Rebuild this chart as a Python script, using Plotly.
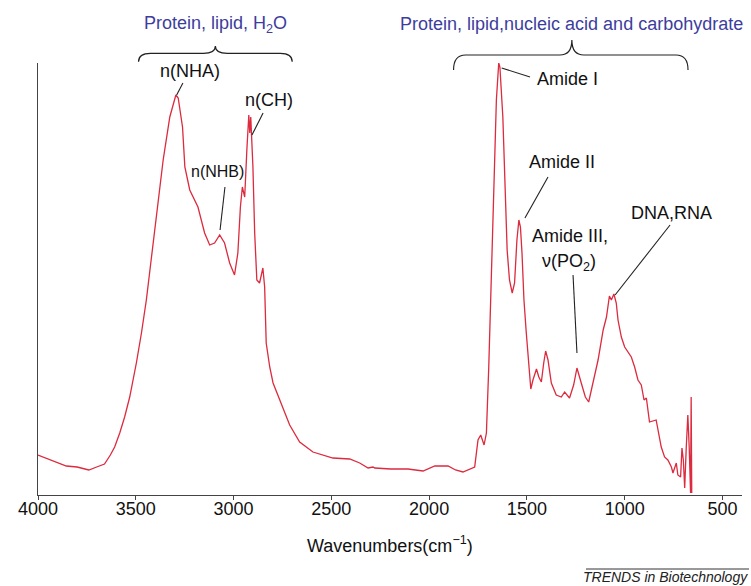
import plotly.graph_objects as go

# ---------------- data ----------------
wavenumber = [4000, 3930, 3855, 3800, 3740, 3700, 3660, 3630, 3608, 3582, 3557, 3531, 3497, 3471,
              3446, 3419, 3395, 3360, 3326, 3301, 3295, 3283, 3261, 3249, 3224, 3182, 3148, 3122,
              3097, 3071, 3046, 3020, 2995, 2978, 2965, 2955, 2943, 2932, 2922, 2917, 2912, 2901,
              2892, 2881, 2867, 2850, 2841, 2833, 2815, 2798, 2764, 2713, 2662, 2594, 2492, 2406,
              2355, 2312, 2287, 2278, 2196, 2108, 2031, 1971, 1903, 1865, 1827, 1767, 1750, 1736,
              1719, 1707, 1695, 1685, 1668, 1656, 1644, 1638, 1623, 1611, 1601, 1589, 1575, 1563,
              1551, 1541, 1533, 1525, 1515, 1503, 1491, 1480, 1469, 1451, 1439, 1426, 1414, 1404,
              1392, 1375, 1350, 1324, 1307, 1282, 1261, 1244, 1222, 1201, 1184, 1161, 1136, 1110,
              1093, 1078, 1068, 1055, 1043, 1034, 1017, 1000, 983, 966, 949, 932, 915, 901, 889,
              873, 839, 830, 813, 796, 779, 761, 753, 736, 728, 714, 707, 700, 693, 685, 677, 670,
              663, 660, 657]
absorbance = [40, 35, 29, 28, 25, 28, 31, 40, 48, 62, 78, 98, 132, 162,
              195, 239, 278, 335, 378, 398, 400, 397, 368, 328, 305, 288, 262, 250,
              252, 260, 252, 232, 220, 242, 288, 308, 298, 345, 380, 362, 378, 328,
              262, 215, 212, 227, 208, 152, 128, 112, 95, 70, 53, 43, 37, 36,
              32, 27, 28, 27, 26, 26, 24, 29, 29, 25, 23, 28, 55, 60,
              50, 62, 128, 195, 328, 395, 432, 428, 378, 312, 245, 215, 202, 212,
              255, 275, 268, 242, 195, 162, 128, 106, 115, 126, 118, 113, 132, 144,
              135, 112, 100, 98, 103, 97, 110, 127, 112, 98, 93, 112, 135, 165,
              178, 199, 195, 201, 192, 175, 158, 148, 143, 138, 128, 115, 110, 95, 97,
              73, 75, 65, 48, 38, 35, 28, 22, 32, 20, 18, 47, 35, 7, 48, 80, 48,
              2, 98, 2]

tick_values = [4000, 3500, 3000, 2500, 2000, 1500, 1000, 500]
tick_labels = ["4000", "3500", "3000", "2500", "2000", "1500", "1000", "500"]

# peak labels (text and where it sits, in wavenumber / absorbance units)
peak_labels = ["n(NHA)", "n(CH)", "n(NHB)", "Amide I", "Amide II", "Amide III,", "ν(PO<sub>2</sub>)", "DNA,RNA"]
peak_font = [18, 18, 16, 18, 18, 18, 18, 18]
label_x = [3224, 2819, 3080, 1290, 1320, 1282, 1285, 760]
label_y = [424, 395, 324, 416, 333, 259, 233, 282]

# leader lines from peak to label
leader_x0 = [3291, 2906, 3069, 1629, 1510, 1244, 1049]
leader_y0 = [400, 360, 265, 427, 277, 142, 200]
leader_x1 = [3259, 2849, 3044, 1484, 1392, 1264, 768]
leader_y1 = [412, 382, 308, 418, 318, 220, 270]

group_labels = ["Protein, lipid, H<sub>2</sub>O", "Protein, lipid,nucleic acid and carbohydrate"]
group_from = [3486, 1875]
group_to = [2700, 676]
group_tip = [3093, 1270]

FONT = "Liberation Sans, Arial, sans-serif"
W, H = 751, 586
ML, MR, MT, MB = 38, 9, 63, 91
PW, PH = W - ML - MR, H - MT - MB
XMAX, XMIN = 4000, 400
YMAX = 432


def xp(wn):
    return (XMAX - wn) / (XMAX - XMIN)


def yp(py):
    return (H - MB - py) / PH


fig = go.Figure()
fig.add_trace(go.Scatter(x=wavenumber, y=absorbance, mode="lines",
                         line=dict(color="#dc2a3e", width=1.3), hoverinfo="skip"))

shapes = []
annotations = []

for i in range(len(leader_x0)):
    shapes.append(dict(type="line", xref="x", yref="y",
                       x0=leader_x0[i], y0=leader_y0[i], x1=leader_x1[i], y1=leader_y1[i],
                       line=dict(color="#222", width=1.1)))
for i in range(len(peak_labels)):
    annotations.append(dict(x=label_x[i], y=label_y[i], xref="x", yref="y", text=peak_labels[i],
                            showarrow=False, xanchor="center", yanchor="middle",
                            font=dict(family=FONT, size=peak_font[i], color="#111")))

# braces + group titles
brace_line_py = [53.3, 55]
brace_end_py = [61.7, 70]
brace_tip_py = [46.0, 40.0]
title_py = [25, 23.5]
for i in range(len(group_labels)):
    a, b, t = xp(group_from[i]), xp(group_to[i]), xp(group_tip[i])
    ye, yl, yt = yp(brace_end_py[i]), yp(brace_line_py[i]), yp(brace_tip_py[i])
    r = 12 / PW
    path = (f"M {a},{ye} Q {a},{yl} {a + r},{yl} L {t - r},{yl} Q {t},{yl} {t},{yt} "
            f"Q {t},{yl} {t + r},{yl} L {b - r},{yl} Q {b},{yl} {b},{ye}")
    shapes.append(dict(type="path", xref="paper", yref="paper", path=path,
                       line=dict(color="#222", width=1.2)))
    annotations.append(dict(x=t, y=yp(title_py[i]), xref="paper", yref="paper",
                            text=group_labels[i], showarrow=False, xanchor="center",
                            yanchor="middle",
                            font=dict(family=FONT, size=18, color="#3d3d9e")))

# axis title
annotations.append(dict(x=0.5, y=yp(544), xref="paper", yref="paper",
                        text="Wavenumbers(cm<sup>−1</sup>)", showarrow=False,
                        xanchor="center", yanchor="middle",
                        font=dict(family=FONT, size=18, color="#111")))

# journal credit
shapes.append(dict(type="line", xref="paper", yref="paper",
                   x0=(586 - ML) / PW, x1=(749 - ML) / PW, y0=yp(569), y1=yp(569),
                   line=dict(color="#333", width=1)))
annotations.append(dict(x=(749 - ML) / PW, y=yp(586), xref="paper", yref="paper",
                        text="<i>TRENDS in Biotechnology</i>", showarrow=False,
                        xanchor="right", yanchor="bottom", borderpad=0,
                        font=dict(family=FONT, size=14, color="#222")))

fig.update_layout(
    width=W, height=H, autosize=False,
    margin=dict(l=ML, r=MR, t=MT, b=MB),
    plot_bgcolor="white", paper_bgcolor="white",
    showlegend=False,
    shapes=shapes, annotations=annotations,
    xaxis=dict(range=[XMAX, XMIN], tickvals=tick_values, ticktext=tick_labels,
               showgrid=False, zeroline=False, showline=True, linecolor="#444", linewidth=1.3,
               ticks="outside", ticklen=4, tickcolor="#444", tickwidth=1,
               ticklabelstandoff=-7,
               tickfont=dict(family=FONT, size=18, color="#111")),
    yaxis=dict(range=[0, YMAX], showgrid=False, zeroline=False, showline=True,
               linecolor="#444", linewidth=1.3, showticklabels=False, ticks=""),
)

fig.write_html("out.html")
